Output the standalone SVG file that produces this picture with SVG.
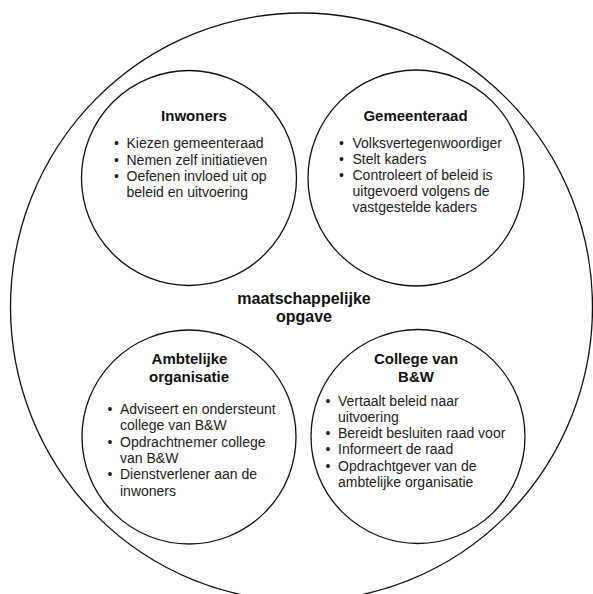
<svg xmlns="http://www.w3.org/2000/svg" width="593" height="594" viewBox="0 0 593 594">
<style>
.ring{fill:none;stroke:#111;stroke-width:1.3}
.title{font-family:"Liberation Sans",Arial,sans-serif;font-weight:bold;font-size:15px;fill:#111;text-anchor:middle}
.main{font-family:"Liberation Sans",Arial,sans-serif;font-weight:bold;font-size:16px;fill:#111;text-anchor:middle}
.item{font-family:"Liberation Sans",Arial,sans-serif;font-size:14px;fill:#222}
</style>
<rect width="593" height="594" fill="#fff"/>
<g id="opgave">
<ellipse class="ring" cx="301.5" cy="307" rx="291" ry="294"/>
<text class="main" x="304" y="304">maatschappelijke</text>
<text class="main" x="304" y="321.5">opgave</text>
</g>
<g id="inwoners">
<circle class="ring" cx="189" cy="178" r="107.5"/>
<text class="title" x="194" y="121">Inwoners</text>
<text class="item" x="114" y="148">•</text>
<text class="item" x="126.5" y="148">Kiezen gemeenteraad</text>
<text class="item" x="114" y="164.5">•</text>
<text class="item" x="126.5" y="164.5">Nemen zelf initiatieven</text>
<text class="item" x="114" y="180.5">•</text>
<text class="item" x="126.5" y="180.5">Oefenen invloed uit op</text>
<text class="item" x="126.5" y="197">beleid en uitvoering</text>
</g>
<g id="gemeenteraad">
<circle class="ring" cx="416" cy="178" r="108"/>
<text class="title" x="415.5" y="121">Gemeenteraad</text>
<text class="item" x="339" y="147.5">•</text>
<text class="item" x="352.5" y="147.5">Volksvertegenwoordiger</text>
<text class="item" x="339" y="163.5">•</text>
<text class="item" x="352.5" y="163.5">Stelt kaders</text>
<text class="item" x="339" y="180">•</text>
<text class="item" x="352.5" y="180">Controleert of beleid is</text>
<text class="item" x="352.5" y="196">uitgevoerd volgens de</text>
<text class="item" x="352.5" y="212">vastgestelde kaders</text>
</g>
<g id="ambtelijke-organisatie">
<circle class="ring" cx="189" cy="437" r="107"/>
<text class="title" x="189.5" y="363.5">Ambtelijke</text>
<text class="title" x="189" y="381.5">organisatie</text>
<text class="item" x="107.5" y="413.5">•</text>
<text class="item" x="120" y="413.5">Adviseert en ondersteunt</text>
<text class="item" x="120" y="430">college van B&amp;W</text>
<text class="item" x="107.5" y="446.5">•</text>
<text class="item" x="120" y="446.5">Opdrachtnemer college</text>
<text class="item" x="120" y="462.5">van B&amp;W</text>
<text class="item" x="107.5" y="479">•</text>
<text class="item" x="120" y="479">Dienstverlener aan de</text>
<text class="item" x="120" y="495.5">inwoners</text>
</g>
<g id="college-bw">
<circle class="ring" cx="418" cy="436.5" r="107"/>
<text class="title" x="416" y="363.5">College van</text>
<text class="title" x="416" y="381.5">B&amp;W</text>
<text class="item" x="325.5" y="406">•</text>
<text class="item" x="338" y="406">Vertaalt beleid naar</text>
<text class="item" x="338" y="422">uitvoering</text>
<text class="item" x="325.5" y="438">•</text>
<text class="item" x="338" y="438">Bereidt besluiten raad voor</text>
<text class="item" x="325.5" y="454">•</text>
<text class="item" x="338" y="454">Informeert de raad</text>
<text class="item" x="325.5" y="470.5">•</text>
<text class="item" x="338" y="470.5">Opdrachtgever van de</text>
<text class="item" x="338" y="486.5">ambtelijke organisatie</text>
</g>
<g id="connectors"/>
</svg>
